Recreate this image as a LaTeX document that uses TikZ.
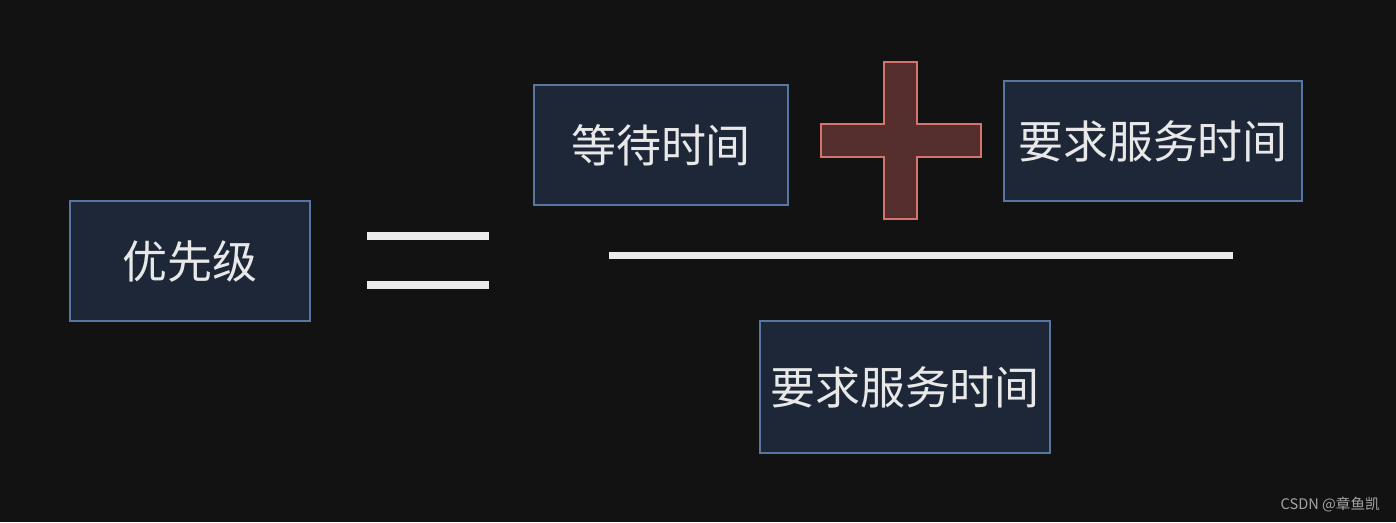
\documentclass[tikz,border=0pt]{standalone}
\usepackage{fontspec}
\setmainfont{Noto Sans CJK SC}
\usetikzlibrary{positioning}
\usepackage{xcolor}
\definecolor{bgdark}{RGB}{18,18,18}
\definecolor{boxfill}{RGB}{30,39,56}
\definecolor{boxbdr}{RGB}{88,118,160}
\definecolor{txtcol}{RGB}{232,232,232}
\definecolor{barcol}{RGB}{235,235,235}
\definecolor{plusfill}{RGB}{85,47,46}
\definecolor{plusbdr}{RGB}{214,115,108}
\definecolor{wmcol}{RGB}{165,165,165}

\begin{document}
\begin{tikzpicture}[x=0.02cm,y=-0.02cm]
\tikzset{
  BX/.style={draw=boxbdr,fill=boxfill,line width=0.8pt,rectangle,minimum width=4.8cm,minimum height=2.4cm,font=\fontsize{25.6}{29}\selectfont\color{txtcol},inner sep=0pt},
  BAR/.style={fill=barcol},
  PL/.style={draw=plusbdr,fill=plusfill,line width=0.8pt},
  WM/.style={font=\fontsize{8.3}{10}\selectfont\color{wmcol},inner sep=0pt},
}

\fill[bgdark](0,0) rectangle (1396,522);

\node[BX](prio) at (190,261){优先级};

% equal sign
\fill[BAR](367,232) rectangle (489,240);
\fill[BAR](367,281) rectangle (489,289);

\node[BX,minimum width=5.08cm](wait)  at (661,145){等待时间};
\node[BX,minimum width=5.96cm](svctop) at (1153,141){要求服务时间};

% plus sign
\draw[PL](884,62)--(917,62)--(917,124)--(981,124)--(981,157)--(917,157)--(917,219)--(884,219)--(884,157)--(821,157)--(821,124)--(884,124)--cycle;

% fraction bar
\fill[BAR](609,252) rectangle (1233,259);

\node[BX,minimum width=5.8cm,minimum height=2.64cm](svcbot) at (905,387){要求服务时间};

\node[WM,anchor=east](wm) at (1380,505){CSDN @章鱼凯};

\end{tikzpicture}
\end{document}
